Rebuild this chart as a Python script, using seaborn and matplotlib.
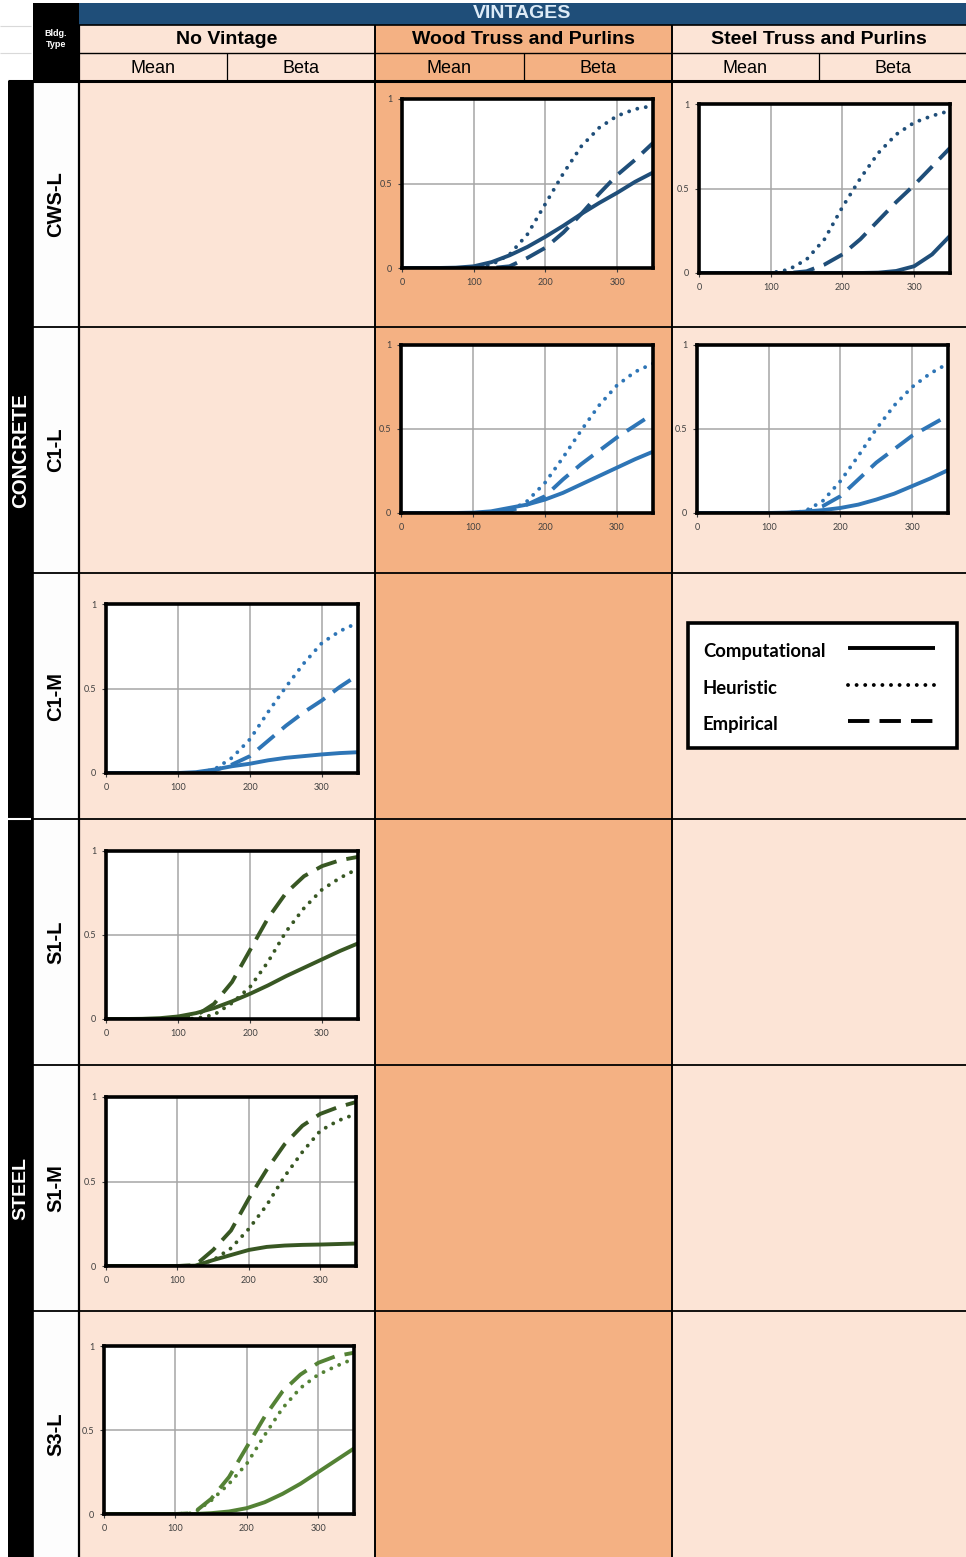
import matplotlib
matplotlib.use("Agg")
import matplotlib.pyplot as plt
from matplotlib.patches import Rectangle
import seaborn as sns
import pandas as pd

# ---------------------------------------------------------------------------
# Fragility data: probability of damage versus distance (x axis 0-350)
# ---------------------------------------------------------------------------
distance = [0, 25, 50, 75, 100, 125, 150, 175, 200, 225, 250, 275, 300, 325, 350]

# CWS-L, Wood Truss and Purlins
cwsl_wood_comp = [0, 0, 0, 0.002, 0.01, 0.035, 0.075, 0.125, 0.185, 0.25, 0.32, 0.385, 0.445, 0.51, 0.565]
cwsl_wood_heur = [0, 0, 0, 0, 0, 0.02, 0.08, 0.2, 0.38, 0.56, 0.72, 0.83, 0.9, 0.94, 0.96]
cwsl_wood_emp = [0, 0, 0, 0, 0, 0, 0.01, 0.06, 0.12, 0.21, 0.32, 0.44, 0.55, 0.64, 0.74]

# CWS-L, Steel Truss and Purlins
cwsl_steel_comp = [0, 0, 0, 0, 0, 0, 0, 0, 0, 0, 0.002, 0.012, 0.04, 0.11, 0.22]
cwsl_steel_heur = [0, 0, 0, 0, 0, 0.02, 0.08, 0.2, 0.39, 0.56, 0.71, 0.82, 0.89, 0.93, 0.96]
cwsl_steel_emp = [0, 0, 0, 0, 0, 0, 0.01, 0.05, 0.11, 0.2, 0.31, 0.42, 0.52, 0.63, 0.74]

# C1-L, Wood Truss and Purlins
c1l_wood_comp = [0, 0, 0, 0, 0.002, 0.01, 0.03, 0.05, 0.08, 0.12, 0.17, 0.22, 0.27, 0.32, 0.365]
c1l_wood_heur = [0, 0, 0, 0, 0, 0, 0.01, 0.07, 0.18, 0.33, 0.49, 0.64, 0.76, 0.84, 0.89]
c1l_wood_emp = [0, 0, 0, 0, 0, 0, 0.01, 0.05, 0.1, 0.2, 0.29, 0.37, 0.45, 0.52, 0.59]

# C1-L, Steel Truss and Purlins
c1l_steel_comp = [0, 0, 0, 0, 0, 0.002, 0.008, 0.017, 0.03, 0.05, 0.08, 0.115, 0.16, 0.205, 0.255]
c1l_steel_heur = [0, 0, 0, 0, 0, 0, 0.01, 0.07, 0.19, 0.34, 0.5, 0.64, 0.75, 0.83, 0.89]
c1l_steel_emp = [0, 0, 0, 0, 0, 0, 0.005, 0.04, 0.1, 0.2, 0.3, 0.38, 0.46, 0.52, 0.58]

# C1-M, No Vintage
c1m_comp = [0, 0, 0, 0, 0, 0.005, 0.02, 0.04, 0.055, 0.075, 0.09, 0.1, 0.11, 0.118, 0.123]
c1m_heur = [0, 0, 0, 0, 0, 0, 0.02, 0.09, 0.2, 0.36, 0.51, 0.65, 0.77, 0.84, 0.89]
c1m_emp = [0, 0, 0, 0, 0, 0, 0.015, 0.05, 0.1, 0.19, 0.28, 0.36, 0.43, 0.51, 0.58]

# S1-L, No Vintage
s1l_comp = [0, 0, 0.001, 0.005, 0.015, 0.035, 0.065, 0.105, 0.15, 0.2, 0.255, 0.305, 0.355, 0.405, 0.45]
s1l_heur = [0, 0, 0, 0, 0, 0.003, 0.025, 0.095, 0.19, 0.34, 0.52, 0.66, 0.77, 0.84, 0.895]
s1l_emp = [0, 0, 0, 0, 0, 0.02, 0.09, 0.22, 0.41, 0.6, 0.75, 0.85, 0.91, 0.945, 0.965]

# S1-M, No Vintage
s1m_comp = [0, 0, 0, 0, 0, 0.002, 0.035, 0.065, 0.095, 0.113, 0.121, 0.125, 0.127, 0.13, 0.133]
s1m_heur = [0, 0, 0, 0, 0, 0, 0.035, 0.105, 0.22, 0.36, 0.53, 0.675, 0.8, 0.86, 0.9]
s1m_emp = [0, 0, 0, 0, 0, 0.005, 0.095, 0.21, 0.4, 0.57, 0.72, 0.83, 0.9, 0.94, 0.97]

# S3-L, No Vintage
s3l_comp = [0, 0, 0, 0, 0, 0, 0.005, 0.015, 0.035, 0.07, 0.12, 0.18, 0.25, 0.32, 0.39]
s3l_heur = [0, 0, 0, 0, 0, 0.005, 0.08, 0.18, 0.3, 0.47, 0.63, 0.75, 0.83, 0.88, 0.925]
s3l_emp = [0, 0, 0, 0, 0, 0.005, 0.09, 0.22, 0.4, 0.58, 0.73, 0.83, 0.9, 0.94, 0.96]

# Table text
vintages = ["No Vintage", "Wood Truss and Purlins", "Steel Truss and Purlins"]
sub_headers = ["Mean", "Beta"]
bldg_types = ["CWS-L", "C1-L", "C1-M", "S1-L", "S1-M", "S3-L"]
materials = ["CONCRETE", "STEEL"]
methods = ["Computational", "Heuristic", "Empirical"]

# ---------------------------------------------------------------------------
# Styling
# ---------------------------------------------------------------------------
sns.set_style("white")
plt.rcParams['font.family'] = ['Liberation Sans', 'DejaVu Sans']

PEACH = '#FCE4D6'
ORANGE = '#F4B183'
NAVY = '#1F4E79'
BLUE = '#2E75B6'
DKGREEN = '#385723'
GREEN = '#548235'

DOTTED = (0, (0.01, 2.2))
DASHED = (0, (5.5, 2.6))
line_styles = {"Computational": '-', "Heuristic": DOTTED, "Empirical": DASHED}
cap_styles = {"Computational": 'butt', "Heuristic": 'round', "Empirical": 'butt'}

W, H = 966, 1557
fig = plt.figure(figsize=(W / 100, H / 100), dpi=100)
fig.patch.set_facecolor('white')

# Background canvas in pixel units (y grows downward)
bg = fig.add_axes([0, 0, 1, 1])
bg.set_xlim(0, W)
bg.set_ylim(H, 0)
bg.axis('off')


def rect(x0, y0, x1, y1, color, **kw):
    bg.add_patch(Rectangle((x0, y0), x1 - x0, y1 - y0, facecolor=color,
                           edgecolor='none', **kw))


def hline(y, x0, x1, color='black', lw=1.2):
    bg.plot([x0, x1], [y, y], color=color, lw=lw, solid_capstyle='butt')


def vline(x, y0, y1, color='black', lw=1.2):
    bg.plot([x, x], [y0, y1], color=color, lw=lw, solid_capstyle='butt')


col_edges = [79, 375, 672, 966]
col_colors = [PEACH, ORANGE, PEACH]
row_edges = [82, 327, 573, 819, 1065, 1311, 1557]

# Header: VINTAGES band
rect(79, 3, 966, 25, NAVY)
bg.text((79 + 966) / 2, 13.5, "VINTAGES", ha='center', va='center', color='#DDEBF7',
        fontsize=14, fontweight='bold')

# Bldg. Type box
rect(33, 3, 79, 81, 'black')
bg.text(56, 39, "Bldg.\nType", ha='center', va='center', color='white',
        fontsize=6.5, fontweight='bold', linespacing=1.3)

# faint spreadsheet lines on the far left
hline(26, 0, 31, color='#D9D9D9', lw=0.8)
hline(53, 0, 31, color='#D9D9D9', lw=0.8)

# Vintage headers and Mean/Beta sub-headers
for i, name in enumerate(vintages):
    x0, x1 = col_edges[i], col_edges[i + 1]
    rect(x0, 25, x1, 81, col_colors[i])
    bg.text((x0 + x1) / 2, 39.5, name, ha='center', va='center', fontsize=14,
            fontweight='bold', color='black')
    xm = (x0 + x1) / 2
    for j, sub in enumerate(sub_headers):
        cx = (x0 + xm) / 2 if j == 0 else (xm + x1) / 2
        bg.text(cx, 68, sub, ha='center', va='center', fontsize=13, color='black')
    vline(xm, 53, 81, lw=0.9)

hline(25, 79, 966, lw=1.2)
hline(53, 79, 966, lw=1.0)

# Body column backgrounds
for i in range(3):
    rect(col_edges[i], 82, col_edges[i + 1], H, col_colors[i])

# Row label column and material strip
rect(33, 82, 79, H, '#FDFDFD')
rect(8, 81, 33, H, 'black')
hline(819, 8, 31, color='white', lw=1.5)

for k, lab in enumerate(bldg_types):
    yc = (row_edges[k] + row_edges[k + 1]) / 2
    bg.text(56, yc, lab, ha='center', va='center', rotation=90, fontsize=14.5,
            fontweight='bold', color='black')
bg.text(21, (82 + 819) / 2, materials[0], ha='center', va='center', rotation=90,
        fontsize=14.8, fontweight='bold', color='white')
bg.text(21, (819 + 1557) / 2, materials[1], ha='center', va='center', rotation=90,
        fontsize=14, fontweight='bold', color='white')

# Grid lines of the table
hline(81, 8, 966, lw=2.2)
for y in row_edges[1:-1]:
    hline(y, 33, 966, lw=1.3)
vline(78.5, 25, H, lw=1.6)
vline(33, 81, H, lw=1.2)
vline(375, 25, H, lw=1.4)
vline(672, 25, H, lw=1.4)

# ---------------------------------------------------------------------------
# Fragility panels
# ---------------------------------------------------------------------------
panels = [
    # (pixel box l, t, r, b), colour, (computational, heuristic, empirical)
    ((402, 99, 653, 268), NAVY, (cwsl_wood_comp, cwsl_wood_heur, cwsl_wood_emp)),
    ((699, 104, 950, 273), NAVY, (cwsl_steel_comp, cwsl_steel_heur, cwsl_steel_emp)),
    ((401, 345, 653, 513), BLUE, (c1l_wood_comp, c1l_wood_heur, c1l_wood_emp)),
    ((697, 345, 948, 513), BLUE, (c1l_steel_comp, c1l_steel_heur, c1l_steel_emp)),
    ((106, 604, 358, 773), BLUE, (c1m_comp, c1m_heur, c1m_emp)),
    ((106, 851, 358, 1019), DKGREEN, (s1l_comp, s1l_heur, s1l_emp)),
    ((106, 1097, 356, 1266), DKGREEN, (s1m_comp, s1m_heur, s1m_emp)),
    ((104, 1346, 354, 1514), GREEN, (s3l_comp, s3l_heur, s3l_emp)),
]

for (l, t, r, b), color, series in panels:
    ax = fig.add_axes([l / W, 1 - b / H, (r - l) / W, (b - t) / H])
    ax.set_facecolor('white')
    df = pd.DataFrame({"distance": distance, "Computational": series[0],
                       "Heuristic": series[1], "Empirical": series[2]})
    for m in ["Computational", "Empirical", "Heuristic"]:
        sns.lineplot(data=df, x="distance", y=m, ax=ax, color=color,
                     linewidth=2.8, linestyle=line_styles[m],
                     dash_capstyle=cap_styles[m], errorbar=None, legend=False)
    ax.set_xlim(0, 350)
    ax.set_ylim(0, 1)
    ax.set_xticks([0, 100, 200, 300])
    ax.set_yticks([0, 0.5, 1])
    ax.set_yticklabels(['0', '0.5', '1'])
    ax.set_xlabel('')
    ax.set_ylabel('')
    ax.grid(True, color='#A6A6A6', linewidth=1.1)
    ax.set_axisbelow(True)
    for s in ax.spines.values():
        s.set_visible(True)
        s.set_color('black')
        s.set_linewidth(2.6)
    ax.tick_params(axis='both', labelsize=6.5, colors='#404040', length=3,
                   width=0.8, direction='out', pad=4, bottom=True, left=True)
    for lab in ax.get_xticklabels() + ax.get_yticklabels():
        lab.set_family(['Lato', 'DejaVu Sans'])

# ---------------------------------------------------------------------------
# Line-style key
# ---------------------------------------------------------------------------
bg.add_patch(Rectangle((688, 623), 269, 125, facecolor='white', edgecolor='black',
                       linewidth=2.6, zorder=5))
key_rows = [651, 688, 724]
for m, yk in zip(methods, key_rows):
    bg.text(703, yk, m, ha='left', va='center', fontsize=13.3, fontweight='bold',
            family=['Lato', 'DejaVu Sans'], color='black', zorder=6)
    bg.plot([848, 935], [yk - 3, yk - 3], color='black', lw=2.8,
            linestyle=line_styles[m], dash_capstyle=cap_styles[m],
            solid_capstyle='butt', zorder=6)

fig.savefig("out.png", dpi=100, facecolor='white')
